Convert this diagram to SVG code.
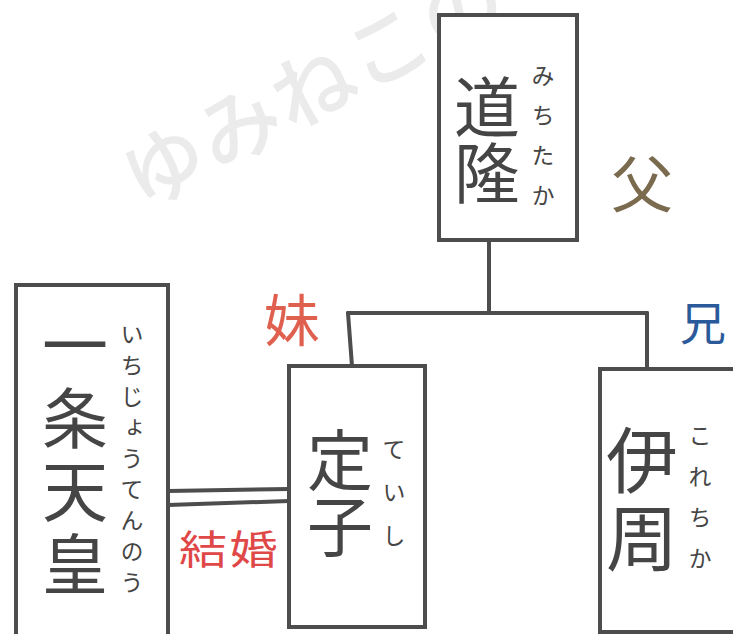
<svg xmlns="http://www.w3.org/2000/svg" width="733" height="634" viewBox="0 0 733 634">
<style>
.box{fill:#fff;stroke:#4d4d4d;stroke-width:4}
.ln{fill:none;stroke:#4d4d4d;stroke-width:4;stroke-linecap:round}
.t{font-family:"Noto Sans CJK JP","Noto Sans",sans-serif;fill:#454545}
.v{writing-mode:vertical-rl}
.kan{font-size:66px}
.kana{font-size:23px}
.wm{font-family:"Noto Sans CJK JP",sans-serif;fill:#ebebeb;font-size:82px;font-weight:500}
</style>
<rect width="733" height="634" fill="#fff"/>
<text class="wm" transform="translate(165,168) rotate(-28)" x="-40" y="28" letter-spacing="2">ゆみねこの</text>
<g id="connectors">
<path class="ln" d="M489,241 V313"/>
<path class="ln" d="M348,313 H647"/>
<path class="ln" d="M348,313 L352,366"/>
<path class="ln" d="M647,313 V369"/>
<path class="ln" d="M168,491 L289,489"/>
<path class="ln" d="M168,505 L289,501"/>
</g>
<g id="michitaka">
<rect class="box" x="439" y="15" width="138" height="225"/>
<text class="t v kan" x="487" y="74">道隆</text>
<text class="t v kana" x="543" y="64" letter-spacing="17">みちたか</text>
</g>
<g id="ichijo">
<rect class="box" x="16" y="285" width="152" height="360"/>
<text class="t v kan" x="75" y="312" letter-spacing="7">一条天皇</text>
<text class="t v kana" x="132" y="323" letter-spacing="8">いちじょうてんのう</text>
</g>
<g id="teishi">
<rect class="box" x="289" y="366" width="136" height="261"/>
<text class="t v kan" x="340" y="427">定子</text>
<text class="t v kana" x="394" y="438" letter-spacing="20">ていし</text>
</g>
<g id="korechika">
<rect class="box" x="600" y="369" width="160" height="263"/>
<text class="t v" x="642" y="424" font-size="72" letter-spacing="6">伊周</text>
<text class="t v kana" x="700" y="424" letter-spacing="18">これちか</text>
</g>
<g id="labels">
<text class="t" x="611" y="208" font-size="62" style="fill:#7a6a4e">父</text>
<text class="t" x="264" y="341" font-size="56" style="fill:#e06050">妹</text>
<text class="t" x="680" y="340" font-size="46" style="fill:#2a5a9a">兄</text>
<text class="t" transform="translate(179,564) scale(1.2,1)" font-size="40" letter-spacing="2" style="fill:#e04848">結婚</text>
</g>
</svg>
